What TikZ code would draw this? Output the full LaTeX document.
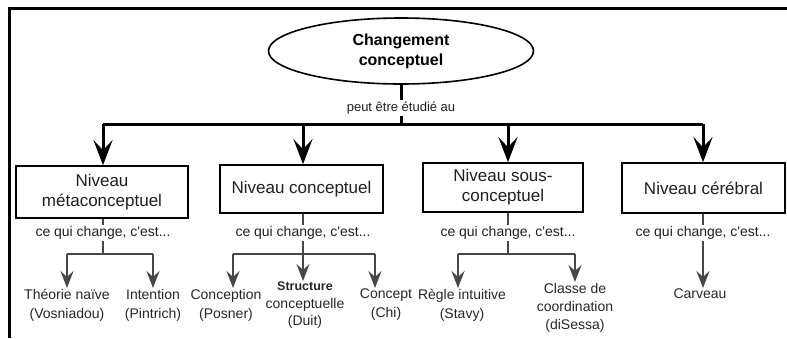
\documentclass[tikz,border=0pt]{standalone}
\usepackage{fontspec}
\setmainfont{Liberation Sans}
\newfontfamily\plainsans{Liberation Sans}
\usetikzlibrary{arrows.meta,shapes.geometric}
\begin{document}
\begin{tikzpicture}[x=1pt,y=-1pt,
  frameline/.style={line width=3pt, black},
  mainline/.style={line width=3pt, black},
  mainarrow/.style={mainline, -{Stealth[length=25pt,width=19pt,inset=10pt]}},
  subline/.style={line width=1.8pt, black!72},
  subarrow/.style={subline, -{Stealth[length=17pt,width=13pt,inset=6pt]}},
  topnode/.style={ellipse, draw, line width=1.6pt, minimum width=265pt, minimum height=66pt, inner sep=0pt, align=center, font=\plainsans\fontsize{16}{20}\selectfont\bfseries},
  levelbox/.style={draw, line width=1.6pt, minimum height=50pt, inner sep=0pt, align=center, font=\plainsans\fontsize{17}{20}\selectfont, text=black!88},
  linklabel/.style={font=\plainsans\fontsize{14}{16}\selectfont, inner sep=1.5pt, text=black!88},
  peutlabel/.style={linklabel, font=\plainsans\fontsize{13}{16}\selectfont},
  leaf/.style={anchor=north, align=center, inner sep=1pt, font=\plainsans\fontsize{14}{19}\selectfont, text=black!85}
]
\useasboundingbox (0,0) rectangle (787,338);
% frame (top and left edges)
\draw[frameline] (9,338) -- (9,8.5) -- (787,8.5);

% top
\node[topnode] (top) at (401,51) {Changement\\conceptuel};
\node[peutlabel] (peut) at (401,108) {peut être étudié au};
\coordinate (j0) at (401,124);
\coordinate (c1) at (103,124);
\coordinate (c2) at (303,124);
\coordinate (c3) at (508,124);
\coordinate (c4) at (703,124);
\draw[mainline] (top.south) -- (peut.north);
\draw[mainline] (peut.south) -- (j0);
\draw[mainline] (c1) -- (c4);

% level boxes
\node[levelbox, minimum width=172pt, minimum height=52pt] (b1) at (102,192) {Niveau\\métaconceptuel};
\node[levelbox, minimum width=163pt, minimum height=48pt] (b2) at (301.5,189) {Niveau conceptuel};
\node[levelbox, minimum width=160pt, minimum height=49pt] (b3) at (503,187.5) {Niveau sous-\\conceptuel};
\node[levelbox, minimum width=163pt, minimum height=50pt] (b4) at (703.5,188) {Niveau cérébral};

\draw[mainarrow] (c1) -- (c1 |- b1.north);
\draw[mainarrow] (c2) -- (c2 |- b2.north);
\draw[mainarrow] (c3) -- (c3 |- b3.north);
\draw[mainarrow] (c4) -- (c4 |- b4.north);

% "ce qui change" labels
\node[linklabel] (l1) at (103,233) {ce qui change, c'est...};
\node[linklabel] (l2) at (303,233) {ce qui change, c'est...};
\node[linklabel] (l3) at (508,233) {ce qui change, c'est...};
\node[linklabel] (l4) at (703,233) {ce qui change, c'est...};
\draw[subline] (l1 |- b1.south) -- (l1.north);
\draw[subline] (l2 |- b2.south) -- (l2.north);
\draw[subline] (l3 |- b3.south) -- (l3.north);
\draw[subline] (l4 |- b4.south) -- (l4.north);

% junctions
\coordinate (j1) at (103,254);
\coordinate (j1a) at (67,254);
\coordinate (j1b) at (153,254);
\coordinate (j2) at (303,254);
\coordinate (j2a) at (233,254);
\coordinate (j2c) at (375,254);
\coordinate (j3) at (508,254);
\coordinate (j3a) at (458,254);
\coordinate (j3b) at (575,254);
\draw[subline] (l1.south) -- (j1);
\draw[subline] (l2.south) -- (j2);
\draw[subline] (l3.south) -- (j3);
\draw[subline] (j1a) -- (j1b);
\draw[subline] (j2a) -- (j2c);
\draw[subline] (j3a) -- (j3b);

% leaves
\node[leaf] (t1) at (67,288) {Théorie naïve\\(Vosniadou)};
\node[leaf] (t2) at (153,288) {Intention\\(Pintrich)};
\node[leaf] (t3) at (226,288) {Conception\\(Posner)};
\node[leaf, font=\plainsans\fontsize{14}{17.5}\selectfont] (t4) at (305,281) {{\fontsize{12.5}{14}\selectfont\bfseries Structure}\\conceptuelle\\(Duit)};
\node[leaf] (t5) at (386,288) {Concept\\(Chi)};
\node[leaf] (t6) at (462,288) {Règle intuitive\\(Stavy)};
\node[leaf, font=\plainsans\fontsize{14}{18}\selectfont] (t7) at (575,282) {Classe de\\coordination\\(diSessa)};
\node[leaf] (t8) at (700,288) {Carveau};

\draw[subarrow] (j1a) -- (j1a |- t1.north);
\draw[subarrow] (j1b) -- (j1b |- t2.north);
\draw[subarrow] (j2a) -- (j2a |- t3.north);
\draw[subarrow] (j2) -- (j2 |- t4.north);
\draw[subarrow] (j2c) -- (j2c |- t5.north);
\draw[subarrow] (j3a) -- (j3a |- t6.north);
\draw[subarrow] (j3b) -- (j3b |- t7.north);
\draw[subarrow] (l4.south) -- (l4.south |- t8.north);
\end{tikzpicture}
\end{document}
